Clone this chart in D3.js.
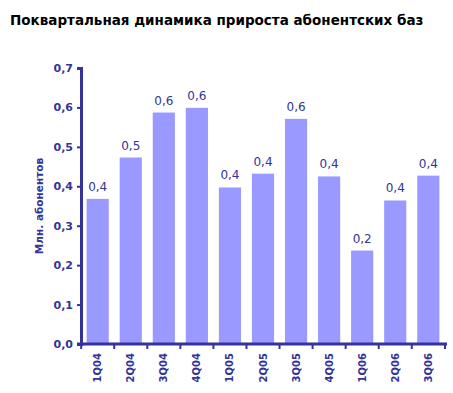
<!DOCTYPE html>
<html>
<head>
<meta charset="utf-8">
<script src="https://cdn.jsdelivr.net/npm/d3@7"></script>
<style>
  body { margin: 0; background: #fff; }
  text { font-family: "DejaVu Sans", Verdana, sans-serif; }
</style>
</head>
<body>
<div id="chart"></div>
<script>
const quarters = ['1Q04', '2Q04', '3Q04', '4Q04', '1Q05', '2Q05', '3Q05', '4Q05', '1Q06', '2Q06', '3Q06'];
const growth = [0.368, 0.473, 0.587, 0.599, 0.397, 0.432, 0.571, 0.425, 0.237, 0.364, 0.427];
const yTicks = [0, 0.1, 0.2, 0.3, 0.4, 0.5, 0.6, 0.7];

const navy = '#333399';
const barColor = '#9999ff';
const fmt = v => d3.format('.1f')(v).replace('.', ',');

const width = 453, height = 393;
const margin = { top: 68, right: 8, bottom: 49, left: 81 };

const svg = d3.select('#chart')
    .append('svg')
    .attr('width', width)
    .attr('height', height);

svg.append('text')
    .attr('x', 10)
    .attr('y', 25)
    .attr('font-size', 13.5)
    .attr('font-weight', 'bold')
    .attr('fill', '#000')
    .text('Поквартальная динамика прироста абонентских баз');

const x = d3.scaleBand()
    .domain(quarters)
    .range([margin.left, width - margin.right])
    .paddingInner(0.33)
    .paddingOuter(0.17);

const y = d3.scaleLinear()
    .domain([0, 0.7])
    .range([height - margin.bottom, margin.top]);

// bars
svg.selectAll('rect.bar')
    .data(growth)
    .enter()
    .append('rect')
    .attr('class', 'bar')
    .attr('x', (d, i) => x(quarters[i]))
    .attr('y', d => y(d))
    .attr('width', x.bandwidth())
    .attr('height', d => y(0) - y(d))
    .attr('fill', barColor);

// value labels
svg.selectAll('text.val')
    .data(growth)
    .enter()
    .append('text')
    .attr('class', 'val')
    .attr('x', (d, i) => x(quarters[i]) + x.bandwidth() / 2)
    .attr('y', d => y(d) - 8)
    .attr('text-anchor', 'middle')
    .attr('font-size', 12)
    .attr('fill', navy)
    .text(d => fmt(d));

// y axis
const yAxis = svg.append('g')
    .attr('transform', `translate(${margin.left},0)`)
    .call(d3.axisLeft(y).tickValues(yTicks).tickFormat(fmt).tickSize(4).tickPadding(4));
yAxis.select('.domain').attr('stroke', navy).attr('stroke-width', 3);
yAxis.selectAll('.tick line').attr('stroke', navy).attr('stroke-width', 2);
yAxis.selectAll('.tick text')
    .attr('fill', navy)
    .attr('font-size', 11)
    .attr('font-weight', 'bold')
    .attr('font-family', '"DejaVu Sans", Verdana, sans-serif');

// x axis
const xEdges = quarters.map(q => x(q) - x.step() * x.paddingInner() / 2);
const xAxis = svg.append('g')
    .attr('transform', `translate(0,${y(0)})`)
    .call(d3.axisBottom(x).tickSize(0).tickSizeOuter(0).tickPadding(8));
xAxis.select('.domain').attr('stroke', navy).attr('stroke-width', 3)
    .attr('d', `M${margin.left - 4},0H${width - margin.right + 2}`);
xAxis.selectAll('line.sep')
    .data(xEdges.concat([width - margin.right]))
    .enter()
    .append('line')
    .attr('class', 'sep')
    .attr('x1', d => d).attr('x2', d => d)
    .attr('y1', 0).attr('y2', 5)
    .attr('stroke', navy)
    .attr('stroke-width', 2);
xAxis.selectAll('.tick text')
    .attr('fill', navy)
    .attr('font-size', 10)
    .attr('font-weight', 'bold')
    .attr('font-family', '"DejaVu Sans", Verdana, sans-serif')
    .attr('text-anchor', 'end')
    .attr('transform', 'translate(0,7) rotate(-90)')
    .attr('x', -2)
    .attr('y', 0)
    .attr('dy', '0.35em');

// y axis title
svg.append('text')
    .attr('transform', 'translate(43,206) rotate(-90)')
    .attr('text-anchor', 'middle')
    .attr('font-size', 10.5)
    .attr('font-weight', 'bold')
    .attr('fill', navy)
    .text('Млн. абонентов');
</script>
</body>
</html>
